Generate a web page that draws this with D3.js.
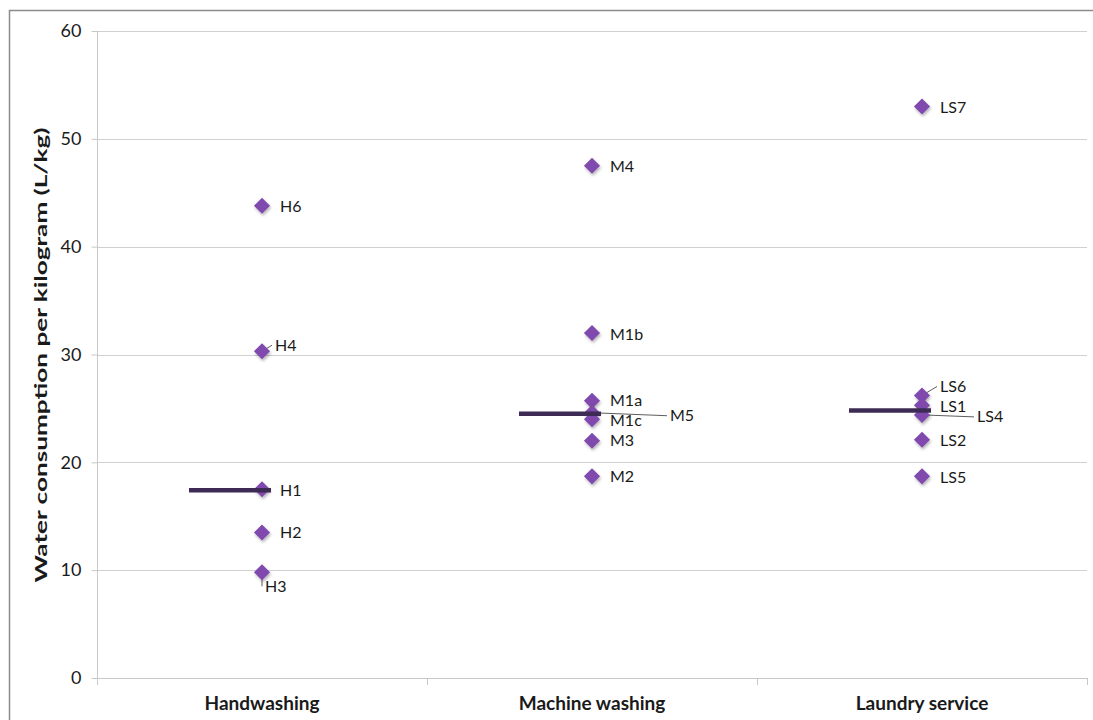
<!DOCTYPE html>
<html><head><meta charset="utf-8">
<script src="https://cdn.jsdelivr.net/npm/d3@7"></script>
<style>body{margin:0;background:#fff;}svg{display:block;font-family:Lato,"Open Sans",sans-serif;}</style>
</head><body><svg id="c" width="1093" height="720"></svg>
<script>
const categories = ["Handwashing", "Machine washing", "Laundry service"];
const pointCategory = ["Handwashing","Handwashing","Handwashing","Handwashing","Handwashing",
  "Machine washing","Machine washing","Machine washing","Machine washing","Machine washing","Machine washing","Machine washing",
  "Laundry service","Laundry service","Laundry service","Laundry service","Laundry service","Laundry service"];
const pointLabels = ["H6","H4","H1","H2","H3","M4","M1b","M1a","M5","M1c","M3","M2","LS7","LS6","LS1","LS4","LS2","LS5"];
const pointValues = [43.8,30.3,17.5,13.5,9.8,47.5,32.0,25.7,24.6,24.0,22.0,18.7,53.0,26.2,25.3,24.4,22.1,18.7];
const medianValues = [17.4, 24.5, 24.8];
const yTicks = [0,10,20,30,40,50,60];
const yTitle = "Water consumption per kilogram (L/kg)";
// label layout (offsets from marker, px) and whether a leader line is drawn
const labelDx = [18,13,18,18,3,18,18,18,78,18,18,18,18,18,18,55,18,18];
const labelDy = [1,-6,1,0,14,1,1,0,3,1,0,0,1,-9,1,2,1,1];
const leader = [0,1,0,0,1,0,0,0,1,0,0,0,0,1,0,1,0,0];

const svg = d3.select("#c");
const x = d3.scaleBand().domain(categories).range([97,1087]);
const y = d3.scaleLinear().domain([0,60]).range([678,31]);

// outer border
svg.append("path").attr("d","M9.5,720 V10.5 H1093").attr("fill","none").attr("stroke","#8c8c8c").attr("stroke-width",1.5);

// gridlines
svg.append("g").selectAll("line").data(yTicks.filter(d=>d>0)).join("line")
  .attr("x1",97).attr("x2",1087).attr("y1",d=>Math.round(y(d))+0.5).attr("y2",d=>Math.round(y(d))+0.5)
  .attr("stroke","#d0d0d0").attr("stroke-width",1);

// y axis
const ya = svg.append("g").attr("transform","translate(97.5,0)")
  .call(d3.axisLeft(y).tickValues(yTicks).tickSize(6).tickPadding(10));
ya.select(".domain").attr("stroke","#c8c8c8").attr("d","M0,31V678");
ya.selectAll(".tick line").attr("stroke","#c8c8c8");
ya.selectAll("text").attr("font-size",18).attr("fill","#1a1a1a").attr("font-family","Lato,'Open Sans',sans-serif");

// x axis
const xa = svg.append("g").attr("transform","translate(0,678.5)")
  .call(d3.axisBottom(x).tickSize(0).tickPadding(18));
xa.select(".domain").attr("stroke","#c8c8c8").attr("d","M97,0H1087");
xa.selectAll("text").attr("font-size",19).attr("font-weight","bold").attr("fill","#1a1a1a").attr("font-family","Lato,'Open Sans',sans-serif");
svg.append("g").selectAll("line").data([97, ...categories.map(c=>x(c)+x.bandwidth())]).join("line")
  .attr("x1",d=>d+0.5).attr("x2",d=>d+0.5).attr("y1",678).attr("y2",685).attr("stroke","#c8c8c8");

// y title
svg.append("text").attr("transform","translate(47,355) rotate(-90)").attr("text-anchor","middle")
  .attr("font-size",17).attr("font-weight","bold").attr("fill","#1a1a1a")
  .attr("textLength",455).attr("lengthAdjust","spacingAndGlyphs").text(yTitle);

// shadow filter
const defs = svg.append("defs");
const f = defs.append("filter").attr("id","sh").attr("x","-50%").attr("y","-50%").attr("width","200%").attr("height","200%");
f.append("feDropShadow").attr("dx",1).attr("dy",2).attr("stdDeviation",1.5).attr("flood-color","#000").attr("flood-opacity",0.3);

const pts = pointValues.map((v,i)=>({v, lab:pointLabels[i], cx:x(pointCategory[i])+x.bandwidth()/2, cy:y(v), i}));

// leader lines
svg.append("g").selectAll("line").data(pts.filter(p=>leader[p.i])).join("line")
  .attr("x1",p=>p.cx).attr("y1",p=>p.cy)
  .attr("x2",p=>p.cx+labelDx[p.i]-3).attr("y2",p=>p.cy+labelDy[p.i])
  .attr("stroke","#333").attr("stroke-width",0.8);

// markers
const dia = d3.symbol().type(d3.symbolDiamond2).size(165);
svg.append("g").selectAll("path").data(pts).join("path")
  .attr("d",dia).attr("transform",p=>`translate(${p.cx},${p.cy})`)
  .attr("fill","#7f48ad").attr("filter","url(#sh)");

// median lines
svg.append("g").selectAll("line").data(categories).join("line")
  .attr("x1",(c)=>x(c)+x.bandwidth()/2-73).attr("x2",(c)=>x(c)+x.bandwidth()/2+9)
  .attr("y1",(c,i)=>y(medianValues[i])).attr("y2",(c,i)=>y(medianValues[i]))
  .attr("stroke","#3e2b55").attr("stroke-width",4.5);

// labels
svg.append("g").selectAll("text").data(pts).join("text")
  .attr("x",p=>p.cx+labelDx[p.i]).attr("y",p=>p.cy+labelDy[p.i]).attr("dy","0.35em")
  .attr("font-size",16).attr("fill","#1a1a1a").text(p=>p.lab);
</script></body></html>
